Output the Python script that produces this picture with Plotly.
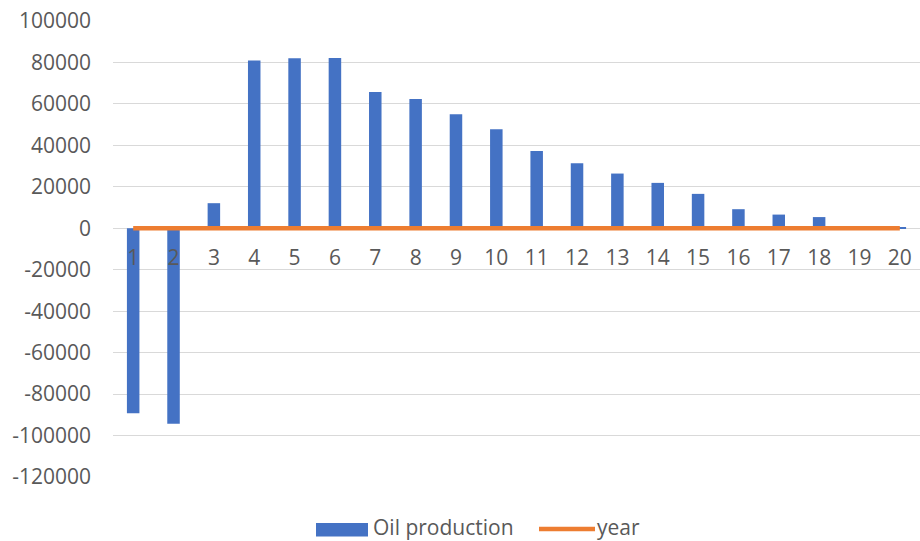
import plotly.graph_objects as go

categories = [str(i) for i in range(1, 21)]
oil_production = [-89200, -94300, 12100, 81000, 82000, 82100, 65700, 62400, 55000, 47800,
                  37300, 31400, 26400, 21900, 16600, 9200, 6600, 5400, 0, 300]
year = list(range(1, 21))
y_tick_vals = [-120000, -100000, -80000, -60000, -40000, -20000, 0, 20000, 40000, 60000, 80000, 100000]
y_tick_text = ["-120000", "-100000", "-80000", "-60000", "-40000", "-20000", "0",
               "20000", "40000", "60000", "80000", "100000"]
legend_names = ["Oil production", "year"]

FONT = "Open Sans"
FS = 21
TXT = "#595959"
BLUE = "#4472C4"
ORANGE = "#ED7D31"
y_min, y_max = -120000, 100000

W, H = 920, 541
ML, MR, MT, MB = 113, 0, 21, 64
PW, PH = W - ML - MR, H - MT - MB


def px(x):
    return (x - ML) / PW


def py(y):
    return (H - MB - y) / PH


fig = go.Figure()
fig.add_trace(go.Bar(x=categories, y=oil_production, name=legend_names[0],
                     marker=dict(color=BLUE, line=dict(width=0)), width=0.31,
                     showlegend=False))
fig.add_trace(go.Scatter(x=categories, y=year, name=legend_names[1], mode="lines",
                         line=dict(color=ORANGE, width=4.5), showlegend=False))

zero_frac = (0 - y_min) / (y_max - y_min)

# legend (drawn manually to match the wide Excel legend keys)
fig.add_shape(type="rect", xref="paper", yref="paper",
              x0=px(316), x1=px(368), y0=py(536.5), y1=py(523), fillcolor=BLUE, line=dict(width=0))
fig.add_shape(type="line", xref="paper", yref="paper",
              x0=px(539), x1=px(595), y0=py(529), y1=py(529), line=dict(color=ORANGE, width=4.5))
fig.add_annotation(text=legend_names[0], xref="paper", yref="paper", x=px(371), y=py(526.5),
                   xanchor="left", yanchor="middle", showarrow=False,
                   font=dict(family=FONT, size=FS, color=TXT))
fig.add_annotation(text=legend_names[1], xref="paper", yref="paper", x=px(595), y=py(526.5),
                   xanchor="left", yanchor="middle", showarrow=False,
                   font=dict(family=FONT, size=FS, color=TXT))

fig.update_layout(
    width=W, height=H,
    margin=dict(l=ML, r=MR, t=MT, b=MB),
    paper_bgcolor="white", plot_bgcolor="white",
    font=dict(family=FONT, size=FS, color=TXT),
    showlegend=False,
    xaxis=dict(type="category", anchor="free", position=zero_frac,
               showline=False, showgrid=False, ticks="", zeroline=False,
               ticklabelstandoff=15, tickfont=dict(size=FS, color=TXT)),
    yaxis=dict(range=[y_min, y_max], tickvals=y_tick_vals, ticktext=y_tick_text,
               showgrid=True, gridcolor="#D9D9D9", gridwidth=1.3,
               zeroline=True, zerolinecolor="#D9D9D9", zerolinewidth=1.3,
               showline=False, ticks="", ticklabelstandoff=21,
               tickfont=dict(size=FS, color=TXT)),
)

fig.write_html("out.html")
